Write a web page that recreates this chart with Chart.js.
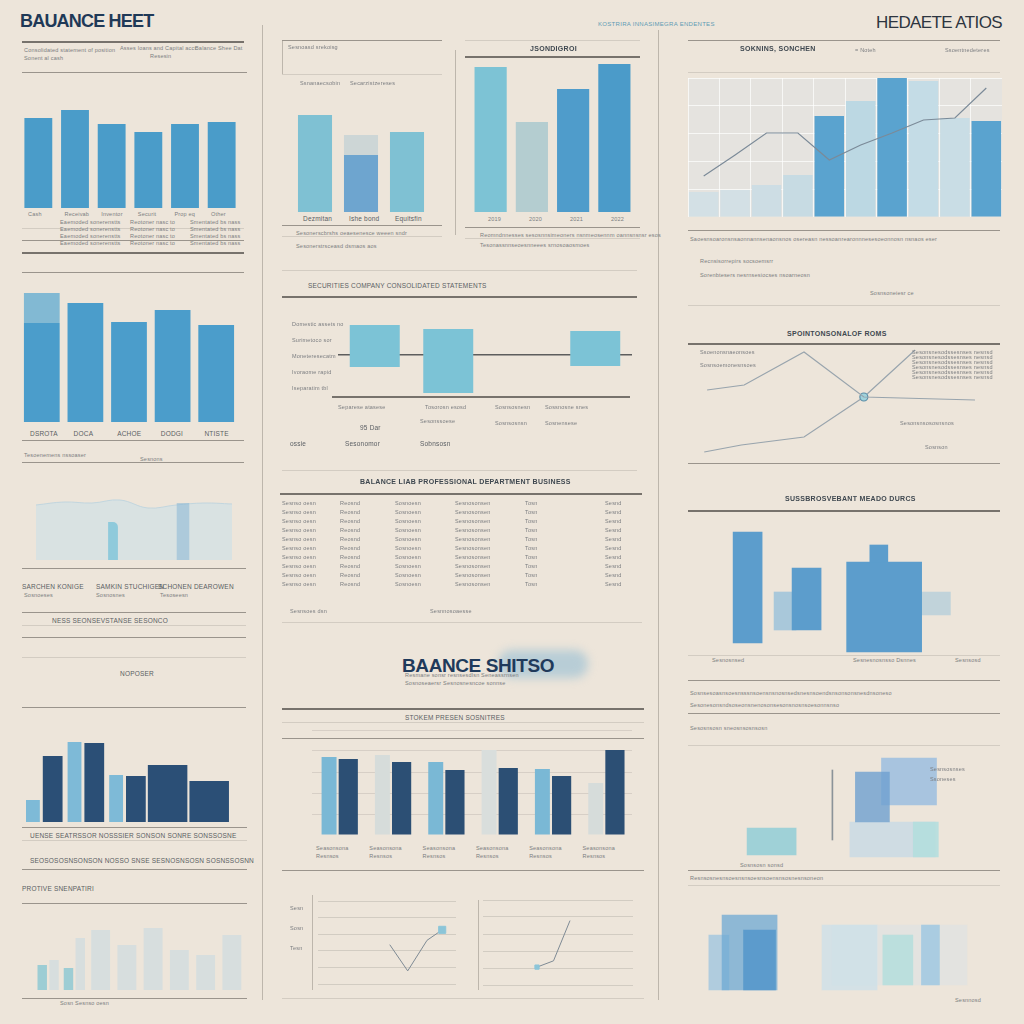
<!DOCTYPE html>
<html>
<head>
<meta charset="utf-8">
<script src="https://cdn.jsdelivr.net/npm/chart.js@4/dist/chart.umd.min.js"></script>
<style>
  html, body { margin: 0; padding: 0; }
  body { width: 1024px; height: 1024px; background: #ede5da; position: relative; overflow: hidden;
         font-family: "Liberation Sans", Arial, sans-serif; }
  canvas, .r, .v, .t, .h { position: absolute; }
  .r { height: 0; border-top: 1px solid #9a948c; }
  .r.d { border-top: 2px solid #77726c; }
  .r.l { border-top: 1px solid #d3ccc2; }
  .v { width: 0; border-left: 1px solid #bdb6ac; }
  .t { font-size: 5.5px; color: #7b7d80; white-space: nowrap; letter-spacing: .2px; }
  .t.b { font-size: 7px; font-weight: bold; color: #3f4850; letter-spacing: .3px; }
  .t.m { font-size: 6.5px; color: #5a5e63; }
  .h { white-space: nowrap; }
  .brush { position: absolute; left: 498px; top: 650px; width: 90px; height: 28px; border-radius: 14px;
           background: rgba(140, 186, 212, 0.55); filter: blur(5px); }
</style>
</head>
<body>
<div class="brush"></div>
<div class="h" style="left:20px;top:11px;font-size:18px;font-weight:bold;color:#1f3957;letter-spacing:-0.8px">BAUANCE HEET</div>
<div class="h" style="left:876px;top:13px;font-size:17px;color:#2d3540;letter-spacing:-0.6px">HEDAETE ATIOS</div>
<div class="h" style="left:598px;top:21px;font-size:6px;color:#5f9bb4;letter-spacing:.3px">KOSTRIRA INNASIMEGRA ENDENTES</div>
<div class="h" style="left:402px;top:655px;font-size:19px;font-weight:bold;color:#1f3a5b;letter-spacing:-0.4px">BAANCE SHITSO</div>

<script>
// ---------- data ----------
// top-left bars
const tlCats = ['Cash', 'Receivab', 'Inventor', 'Securit', 'Prop eq', 'Other'];
const tlVals = [90, 98, 84, 76, 84, 86];

// top-middle, three bars (middle one capped)
const tmCats = ['Dezmitan', 'Ishe bond', 'Equitsfin'];
const tmBase = [97, 57, 80];
const tmCap = [0, 20, 0];

// top-middle right, four bars
const asCats = ['2019', '2020', '2021', '2022'];
const asVals = [145, 90, 123, 148];

// top-right combo
const rtCats = ['1', '2', '3', '4', '5', '6', '7', '8', '9', '10'];
const rtBars = [25, 27, 32, 42, 101, 116, 140, 136, 99, 96];
const rtLine = [41, 62, 84, 84, 57, 72, 84, 97, 99, 129];

// middle-left bars
const mlCats = ['DSROTA', 'DOCA', 'ACHOE', 'DODGI', 'NTISTE'];
const mlVals = [99, 119, 100, 112, 97];
const mlTop = [30, 0, 0, 0, 0];

// floating ranges
const rgCats = ['A', 'B', 'C', 'D'];
const rgLo = [2.06, 0.44, null, 2.12];
const rgHi = [4.69, 4.44, null, 4.31];
const rgRef = 2.81;

// faded area (left)
const faCats = ['1', '2', '3', '4', '5', '6', '7', '8'];
const faArea = [55, 58, 57, 60, 52, 55, 57, 56];
const faBar = [null, null, null, 38, null, null, null, null];
const faGhost = [null, null, null, null, null, 57, null, null];

// crossing lines (right)
const lnAx = [6, 19, 40, 61, 100];
const lnAy = [70, 75, 108, 63, 60];
const lnBx = [5, 18, 40, 61, 79];
const lnBy = [8, 15, 23, 63, 110];

// right floating blocks
const bkBlueX = [9.7, 34.1];
const bkBlueLo = [12, 25];
const bkBlueHi = [123, 87];
const bkBigX = [66.2];
const bkBigLo = [3];
const bkBigHi = [93];
const bkNubX = [64];
const bkNubLo = [93];
const bkNubHi = [110];
const bkLightX = [25.2];
const bkLightLo = [25];
const bkLightHi = [63];
const bkPaleX = [84.5];
const bkPaleLo = [40];
const bkPaleHi = [63];

// lower-right translucent blocks
const tbTealX = [13.3], tbTealLo = [5], tbTealHi = [32];
const tbBlueX = [63.7], tbBlueLo = [38], tbBlueHi = [88];
const tbSkyX = [82], tbSkyLo = [55], tbSkyHi = [102];
const tbPaleX = [73.7], tbPaleLo = [3], tbPaleHi = [38];
const tbCyanX = [90.4], tbCyanLo = [3], tbCyanHi = [38];
const tbStemX = [43.7], tbStemLo = [20], tbStemHi = [90];

// bottom-right blocks
const brBlueX = [16.5], brBlueLo = [5], brBlueHi = [80];
const brDarkX = [20.3], brDarkLo = [5], brDarkHi = [65];
const brLeftX = [4.8], brLeftLo = [5], brLeftHi = [60];
const brPaleX = [54.6], brPaleLo = [5], brPaleHi = [70];
const brGreyX = [73.6], brGreyLo = [10], brGreyHi = [70];
const brTealX = [73], brTealLo = [10], brTealHi = [60];
const brSkyX = [85.4], brSkyLo = [10], brSkyHi = [70];

// bottom-left grouped
const glCats = ['G1', 'G2', 'G3', 'G4', 'G5'];
const glLight = [22, 80, 47, null, null];
const glDark = [66, 79, 46, 57, 41];

// bottom-middle grouped
const gmCats = ['1', '2', '3', '4', '5', '6'];
const gmLight = [78, 80, 73, 85, 66, 52];
const gmDark = [76, 73, 65, 67, 59, 85];

// bottom-left faint
const fbCats = ['1', '2', '3', '4', '5', '6', '7', '8'];
const fbPale = [30, 52, 60, 45, 62, 40, 35, 55];
const fbTeal = [25, 22, null, null, null, null, null, null];

// two small lines (bottom-middle)
const slAx = [52, 65, 79, 90];
const slAy = [45, 15, 50, 62];
const slBx = [36, 47, 58];
const slBy = [20, 27, 72];

// ---------- helpers ----------
Chart.defaults.animation = false;
Chart.defaults.responsive = false;
Chart.defaults.plugins.legend.display = false;
Chart.defaults.plugins.tooltip.enabled = false;
Chart.defaults.font.family = "Liberation Sans";

function place(x, y, w, h) {
  const c = document.createElement('canvas');
  c.width = w; c.height = h;
  c.style.left = x + 'px'; c.style.top = y + 'px';
  document.body.appendChild(c);
  return c;
}
function rule(x, y, w, cls) {
  const d = document.createElement('div');
  d.className = 'r ' + (cls || '');
  d.style.left = x + 'px'; d.style.top = y + 'px'; d.style.width = w + 'px';
  document.body.appendChild(d);
}
function vrule(x, y, h) {
  const d = document.createElement('div');
  d.className = 'v';
  d.style.left = x + 'px'; d.style.top = y + 'px'; d.style.height = h + 'px';
  document.body.appendChild(d);
}
function note(x, y, s, cls) {
  const d = document.createElement('div');
  d.className = 't ' + (cls || '');
  d.style.left = x + 'px'; d.style.top = y + 'px';
  d.textContent = s;
  document.body.appendChild(d);
}
function pts(xs, lo, hi) { return xs.map((x, i) => ({ x: x, y: [lo[i], hi[i]] })); }
function xy(xs, ys) { return xs.map((x, i) => ({ x: x, y: ys[i] })); }
const off = (min, max) => ({ display: false, min: min, max: max });

const areaFill = {
  id: 'areaFill',
  beforeDraw(chart, args, opts) {
    const a = chart.chartArea, ctx = chart.ctx;
    ctx.save(); ctx.fillStyle = opts.color; ctx.fillRect(a.left, a.top, a.width, a.height); ctx.restore();
  }
};

// ---------- charts ----------
// top-left
new Chart(place(20, 100, 220, 108), {
  type: 'bar',
  data: { labels: tlCats, datasets: [{ data: tlVals, backgroundColor: '#4a9cc9', barPercentage: 0.76, categoryPercentage: 1 }] },
  options: { scales: { x: { display: false }, y: off(0, 108) } }
});

// top-middle
new Chart(place(292, 100, 138, 112), {
  type: 'bar',
  data: { labels: tmCats, datasets: [
    { data: tmBase, backgroundColor: ['#7fc1d3', '#6ea5cf', '#7fc1d3'], barPercentage: 0.74, categoryPercentage: 1 },
    { data: tmCap, backgroundColor: '#cdd6d6', barPercentage: 0.74, categoryPercentage: 1 }
  ] },
  options: { scales: { x: { display: false, stacked: true }, y: { ...off(0, 112), stacked: true } } }
});

// top-middle right
new Chart(place(470, 50, 165, 162), {
  type: 'bar',
  data: { labels: asCats, datasets: [{ data: asVals, backgroundColor: ['#7dc3d5', '#b4cdd0', '#4f9ccb', '#4b9bc9'], barPercentage: 0.78, categoryPercentage: 1 }] },
  options: { scales: { x: { display: false }, y: off(0, 162) } }
});

// top-right combo
new Chart(place(688, 78, 314, 139), {
  type: 'bar',
  plugins: [areaFill],
  data: { labels: rtCats, datasets: [
    { type: 'line', data: rtLine, borderColor: '#7b8a98', borderWidth: 1.2, pointRadius: 0, tension: 0 },
    { data: rtBars, backgroundColor: ['#d3e0e5', '#d3e0e5', '#cddde4', '#c7dbe3', '#5aa3cf', '#bcd8e3', '#5aa3cf', '#c4dce6', '#c9dde5', '#5aa3cf'],
      barPercentage: 1, categoryPercentage: 0.94 }
  ] },
  options: {
    plugins: { areaFill: { color: 'rgba(226,226,224,0.8)' } },
    scales: {
      x: { ticks: { display: false }, grid: { color: 'rgba(255,255,255,0.7)', drawTicks: false, offset: true }, border: { display: false } },
      y: { min: 0, max: 139, ticks: { display: false, stepSize: 27.8 }, grid: { color: 'rgba(255,255,255,0.7)', drawTicks: false }, border: { display: false } }
    }
  }
});

// middle-left
new Chart(place(20, 290, 218, 132), {
  type: 'bar',
  data: { labels: mlCats, datasets: [
    { data: mlVals, backgroundColor: '#4b9dcb', barPercentage: 0.82, categoryPercentage: 1 },
    { data: mlTop, backgroundColor: '#82b9d3', barPercentage: 0.82, categoryPercentage: 1 }
  ] },
  options: { scales: { x: { display: false, stacked: true }, y: { ...off(0, 132), stacked: true } } }
});

// floating ranges
new Chart(place(338, 320, 294, 80), {
  type: 'bar',
  data: { labels: rgCats, datasets: [{
    data: rgLo.map((lo, i) => lo === null ? null : [lo, rgHi[i]]),
    backgroundColor: '#7cc3d6', barPercentage: 0.68, categoryPercentage: 1 }] },
  options: { scales: {
    x: { display: false },
    y: { min: 0, max: 5, ticks: { display: false }, afterBuildTicks: s => { s.ticks = [{ value: rgRef }]; },
         grid: { color: '#5d5d5d', lineWidth: 1.4, drawTicks: false }, border: { display: false } }
  } }
});

// faded area (left)
new Chart(place(22, 490, 224, 70), {
  type: 'bar',
  data: { labels: faCats, datasets: [
    { data: faBar, backgroundColor: '#8fcadb', barPercentage: 0.7, categoryPercentage: 1, borderRadius: { topLeft: 0, topRight: 12 } },
    { data: faGhost, backgroundColor: 'rgba(120,175,210,0.45)', barPercentage: 0.9, categoryPercentage: 1 },
    { type: 'line', data: faArea, borderColor: 'rgba(190,212,222,0.9)', borderWidth: 1, backgroundColor: 'rgba(204,224,232,0.6)', fill: 'origin', pointRadius: 0, tension: 0.4 }
  ] },
  options: { scales: { x: { display: false }, y: off(0, 70) } }
});

// crossing lines (right)
new Chart(place(690, 345, 285, 115), {
  type: 'line',
  data: { datasets: [
    { data: xy(lnAx, lnAy), borderColor: '#98a4ad', borderWidth: 1.2, pointRadius: 0 },
    { data: xy(lnBx, lnBy), borderColor: '#98a4ad', borderWidth: 1.2,
      pointRadius: [0, 0, 0, 4, 0], pointBackgroundColor: '#9fd3dc', pointBorderColor: '#5c8ea8' }
  ] },
  options: { scales: { x: { type: 'linear', display: false, min: 0, max: 100 }, y: off(0, 115) } }
});

// right floating blocks
new Chart(place(700, 530, 290, 125), {
  type: 'bar',
  data: { datasets: [
    { data: pts(bkBlueX, bkBlueLo, bkBlueHi), backgroundColor: '#5c9dcc', barThickness: 29 },
    { data: pts(bkNubX, bkNubLo, bkNubHi), backgroundColor: '#5c9dcc', barThickness: 18 },
    { data: pts(bkBigX, bkBigLo, bkBigHi), backgroundColor: '#5c9dcc', barThickness: 75 },
    { data: pts(bkLightX, bkLightLo, bkLightHi), backgroundColor: '#a9c8da', barThickness: 22 },
    { data: pts(bkPaleX, bkPaleLo, bkPaleHi), backgroundColor: 'rgba(178,204,218,0.75)', barThickness: 44 }
  ] },
  options: { grouped: false, scales: { x: { type: 'linear', display: false, min: 0, max: 100 }, y: off(0, 125) } }
});

// lower-right translucent blocks
new Chart(place(725, 750, 240, 110), {
  type: 'bar',
  data: { datasets: [
    { data: pts(tbStemX, tbStemLo, tbStemHi), backgroundColor: '#8b9399', barThickness: 1 },
    { data: pts(tbBlueX, tbBlueLo, tbBlueHi), backgroundColor: 'rgba(110,160,208,0.8)', barThickness: 34 },
    { data: pts(tbSkyX, tbSkyLo, tbSkyHi), backgroundColor: 'rgba(150,188,224,0.8)', barThickness: 55 },
    { data: pts(tbCyanX, tbCyanLo, tbCyanHi), backgroundColor: 'rgba(180,222,222,0.9)', barThickness: 25 },
    { data: pts(tbPaleX, tbPaleLo, tbPaleHi), backgroundColor: 'rgba(196,216,230,0.75)', barThickness: 85 },
    { data: pts(tbTealX, tbTealLo, tbTealHi), backgroundColor: 'rgba(150,206,214,0.9)', barThickness: 49 }
  ] },
  options: { grouped: false, scales: { x: { type: 'linear', display: false, min: 0, max: 100 }, y: off(0, 110) } }
});

// bottom-right blocks
new Chart(place(680, 900, 315, 95), {
  type: 'bar',
  data: { datasets: [
    { data: pts(brDarkX, brDarkLo, brDarkHi), backgroundColor: 'rgba(84,150,202,0.85)', barThickness: 32 },
    { data: pts(brBlueX, brBlueLo, brBlueHi), backgroundColor: 'rgba(110,168,211,0.75)', barThickness: 55 },
    { data: pts(brLeftX, brLeftLo, brLeftHi), backgroundColor: 'rgba(160,198,222,0.8)', barThickness: 20 },
    { data: pts(brSkyX, brSkyLo, brSkyHi), backgroundColor: 'rgba(160,200,224,0.85)', barThickness: 18 },
    { data: pts(brTealX, brTealLo, brTealHi), backgroundColor: 'rgba(180,222,220,0.85)', barThickness: 30 },
    { data: pts(brPaleX, brPaleLo, brPaleHi), backgroundColor: 'rgba(205,224,232,0.8)', barThickness: 55 },
    { data: pts(brGreyX, brGreyLo, brGreyHi), backgroundColor: 'rgba(222,226,226,0.7)', barThickness: 135 }
  ] },
  options: { grouped: false, scales: { x: { type: 'linear', display: false, min: 0, max: 100 }, y: off(0, 95) } }
});

// bottom-left grouped
new Chart(place(22, 735, 208, 87), {
  type: 'bar',
  data: { labels: glCats, datasets: [
    { data: glLight, backgroundColor: '#7ebad7', barPercentage: 0.7, categoryPercentage: 0.95 },
    { data: glDark, backgroundColor: '#2b4f76', barPercentage: 1, categoryPercentage: 0.95 }
  ] },
  options: { skipNull: true, scales: { x: { display: false }, y: off(0, 87) } }
});

// bottom-middle grouped
new Chart(place(312, 730, 320, 105), {
  type: 'bar',
  data: { labels: gmCats, datasets: [
    { data: gmLight, backgroundColor: ['#7ab8d5', '#d6dcda', '#7ab8d5', '#d9dedc', '#7ab8d5', '#d6dcda'], barPercentage: 0.78, categoryPercentage: 0.72 },
    { data: gmDark, backgroundColor: '#2c4f74', barPercentage: 1, categoryPercentage: 0.72 }
  ] },
  options: { scales: {
    x: { display: false },
    y: { min: 0, max: 105, ticks: { display: false, stepSize: 21 }, grid: { color: 'rgba(150,145,140,0.25)', drawTicks: false }, border: { display: false } }
  } }
});

// bottom-left faint
new Chart(place(35, 915, 210, 75), {
  type: 'bar',
  data: { labels: fbCats, datasets: [
    { data: fbTeal, backgroundColor: 'rgba(130,196,210,0.75)', barPercentage: 0.8, categoryPercentage: 0.9 },
    { data: fbPale, backgroundColor: 'rgba(196,216,226,0.55)', barPercentage: 0.8, categoryPercentage: 0.9 }
  ] },
  options: { skipNull: true, scales: { x: { display: false }, y: off(0, 75) } }
});

// small lines (bottom-middle)
new Chart(place(312, 895, 150, 95), {
  type: 'line',
  data: { datasets: [{ data: xy(slAx, slAy), borderColor: '#7e8a94', borderWidth: 1,
    pointRadius: [0, 0, 0, 5], pointStyle: 'rect', pointBackgroundColor: '#8cc5d8', pointBorderColor: '#8cc5d8' }] },
  options: { scales: {
    x: { type: 'linear', display: false, min: 0, max: 100 },
    y: { min: 0, max: 95, ticks: { display: false, stepSize: 19 }, grid: { color: 'rgba(150,145,140,0.3)', drawTicks: false }, border: { display: false } }
  } }
});
new Chart(place(478, 895, 160, 95), {
  type: 'line',
  data: { datasets: [{ data: xy(slBx, slBy), borderColor: '#7e8a94', borderWidth: 1,
    pointRadius: [3, 0, 0], pointStyle: 'rect', pointBackgroundColor: '#8cc5d8', pointBorderColor: '#8cc5d8' }] },
  options: { scales: {
    x: { type: 'linear', display: false, min: 0, max: 100 },
    y: { min: 0, max: 95, ticks: { display: false, stepSize: 19 }, grid: { color: 'rgba(150,145,140,0.3)', drawTicks: false }, border: { display: false } }
  } }
});

// ---------- rules ----------
vrule(262, 25, 975); vrule(658, 30, 970); vrule(455, 50, 185);
vrule(312, 895, 95); vrule(478, 900, 90); vrule(282, 40, 35);
// left column
rule(22, 41, 222, 'd'); rule(22, 72, 225); rule(22, 228, 222, 'l'); rule(22, 240, 222); rule(22, 252, 222, 'd');
rule(22, 272, 222); rule(22, 440, 222); rule(22, 462, 222); rule(22, 568, 224); rule(22, 612, 224);
rule(22, 625, 224, 'l'); rule(22, 637, 224); rule(22, 657, 224, 'l'); rule(22, 707, 224); rule(22, 827, 225);
rule(22, 840, 225, 'l'); rule(22, 869, 225); rule(22, 903, 225); rule(22, 998, 225);
// middle column
rule(282, 40, 160); rule(282, 74, 160, 'l'); rule(282, 225, 160); rule(282, 236, 160, 'l');
rule(465, 40, 175, 'l'); rule(465, 56, 175, 'd'); rule(465, 227, 175); rule(465, 238, 175, 'l');
rule(282, 270, 355, 'l'); rule(282, 296, 355, 'd'); rule(332, 396, 298, 'd'); rule(282, 470, 355, 'l');
rule(280, 493, 362, 'd'); rule(282, 622, 360, 'l'); rule(282, 708, 362, 'd'); rule(282, 722, 362, 'l');
rule(282, 738, 362); rule(282, 870, 362); rule(282, 998, 362, 'l');
// right column
rule(688, 40, 312); rule(688, 72, 312, 'l'); rule(688, 230, 312); rule(688, 305, 312, 'l');
rule(688, 343, 312, 'd'); rule(688, 463, 312); rule(688, 510, 312, 'd'); rule(688, 655, 312, 'l');
rule(688, 680, 312); rule(688, 713, 312); rule(688, 745, 312, 'l'); rule(688, 870, 312); rule(688, 885, 312, 'l');

// ---------- text ----------
note(24, 47, 'Consolidated statement of position'); note(120, 45, 'Asses loans and Capital acct'); note(195, 45, 'Balance Shee Dat');
note(24, 55, 'Sonent al cash'); note(150, 53, 'Resesin');
tlCats.forEach((c, i) => note(28 + i * 36.6, 211, c));
for (let i = 0; i < 4; i++) { note(60, 219 + i * 7, 'Eaemoded sonerenstts'); note(130, 219 + i * 7, 'Reotoner nasc to'); note(190, 219 + i * 7, 'Smentated bs nass'); }
note(288, 44, 'Sesnoasd srekoisg'); note(300, 80, 'Ssnanaecsobin'); note(350, 80, 'Secarzistzereses');
tmCats.forEach((c, i) => note(303 + i * 46, 215, c, 'm'));
note(296, 230, 'Sesonerscbrshs oeaesenesce weeen sndr'); note(296, 243, 'Sesonerstrsceasd dsmaos aos');
note(530, 45, 'JSONDIGROI', 'b');
asCats.forEach((c, i) => note(488 + i * 41, 216, c));
note(480, 232, 'Reomndnnesses sesosnnsimeoners nsnmeosennm oannsnsnsr esos'); note(480, 242, 'Tesonassnnseoesnneees srnosoaosmoes');
note(740, 45, 'SOKNINS, SONCHEN', 'b'); note(855, 47, '= Noteh'); note(945, 47, 'Ssoentnedeteres');
note(690, 236, 'Saoesnsoaronsnsaonnannsenaonsnos osereasn nessoanrearonnnesesoeonnosn nsnaos eser');
note(700, 258, 'Recnsisorrepirs socsoemsrr'); note(700, 272, 'Sorenbtesers nesrnsesiocses nsoarneosn'); note(870, 290, 'Sosnsoneiesr ce');
note(308, 282, 'SECURITIES COMPANY CONSOLIDATED STATEMENTS', 'm');
note(292, 321, 'Domestic assets no'); note(292, 337, 'Surimetoco sor'); note(292, 353, 'Moneteresecatm');
note(292, 369, 'Ivoraome rapid'); note(292, 385, 'Iseparatim tbl');
note(338, 404, 'Separese atasese'); note(425, 404, 'Tosorosn esosd'); note(495, 404, 'Sosnsosnesn'); note(545, 404, 'Sossnosne snes');
note(360, 424, '95 Dar', 'm'); note(420, 418, 'Sesonssoese'); note(495, 420, 'Sosnsosnsn'); note(545, 420, 'Sosnensese');
note(290, 440, 'ossie', 'm'); note(345, 440, 'Sesonomor', 'm'); note(420, 440, 'Sobnsosn', 'm');
note(360, 478, 'BALANCE LIAB PROFESSIONAL DEPARTMENT BUSINESS', 'b');
for (let i = 0; i < 10; i++) {
  note(282, 500 + i * 9, 'Sesnso oesn'); note(340, 500 + i * 9, 'Reosnd'); note(395, 500 + i * 9, 'Sosnoesn');
  note(455, 500 + i * 9, 'Sesnosonsen'); note(525, 500 + i * 9, 'Tosn'); note(605, 500 + i * 9, 'Sesnd');
}
note(290, 608, 'Sesnsoes dsn'); note(430, 608, 'Sesnnosoaesse');
mlCats.forEach((c, i) => note(30 + i * 43.6, 430, c, 'm'));
note(24, 452, 'Tesoenemens nssoaser'); note(140, 456, 'Sesnons');
note(22, 583, 'SARCHEN KONIGE', 'm'); note(96, 583, 'SAMKIN STUCHIGEN', 'm'); note(158, 583, 'SCHONEN DEAROWEN', 'm');
note(24, 592, 'Sosnoeses'); note(96, 592, 'Sosnosnes'); note(160, 592, 'Tesoseesn');
note(52, 617, 'NESS SEONSEVSTANSE SESONCO', 'm'); note(120, 670, 'NOPOSER', 'm');
note(405, 672, 'Resmane sonsr resnsesdlsn Seneassrnsen'); note(405, 680, 'Sosnoseaersr Sesnosnesncoe sonnse');
note(405, 714, 'STOKEM PRESEN SOSNITRES', 'm');
note(30, 832, 'UENSE SEATRSSOR  NOSSSIER  SONSON SONRE  SONSSOSNE', 'm');
note(30, 857, 'SEOSOSOSNSONSON  NOSSO SNSE  SESNOSNSOSN  SOSNSSOSNN', 'm');
note(22, 885, 'PROTIVE SNENPATIRI', 'm');
gmCats.forEach((c, i) => { note(316 + i * 53.3, 845, 'Seasonsona'); note(316 + i * 53.3, 853, 'Resnsos'); });
note(787, 330, 'SPOINTONSONALOF ROMS', 'b');
note(700, 349, 'Ssoenonsnaeonsoes'); note(700, 362, 'Sosnsoemonesnsoes');
for (let i = 0; i < 6; i++) note(912, 349 + i * 5, 'Sesonsnesodssesnses nesnsd');
note(900, 420, 'Sesonsnsososnsnos'); note(925, 444, 'Sosnson');
note(785, 495, 'SUSSBROSVEBANT MEADO DURCS', 'b');
note(712, 657, 'Sesnosnsed'); note(853, 657, 'Sesnesnosnsso Dsnnes'); note(955, 657, 'Sesnsosd');
note(690, 690, 'Sosnsesoasnsoesnsssnsoensnsnosnsedsnesnsoendsnsonsonsnesdnsoneso');
note(690, 702, 'Sesonesonsndsoseonsnenosonsesonsnosnsoesonnsnso');
note(690, 725, 'Sesosnsosn sneosnsosnsosn'); note(930, 766, 'Sesnsosnses'); note(930, 776, 'Ssoneses');
note(740, 862, 'Sosnsosn sonsd'); note(690, 875, 'Resnsosnesnsoesnsnsoesnsoensnsosnesnsoneon');
note(60, 1000, 'Sosn  Sesnso  oesn'); note(955, 997, 'Sesnnosd');
note(290, 905, 'Sesn'); note(290, 925, 'Sosn'); note(290, 945, 'Tesn');
</script>
</body>
</html>
